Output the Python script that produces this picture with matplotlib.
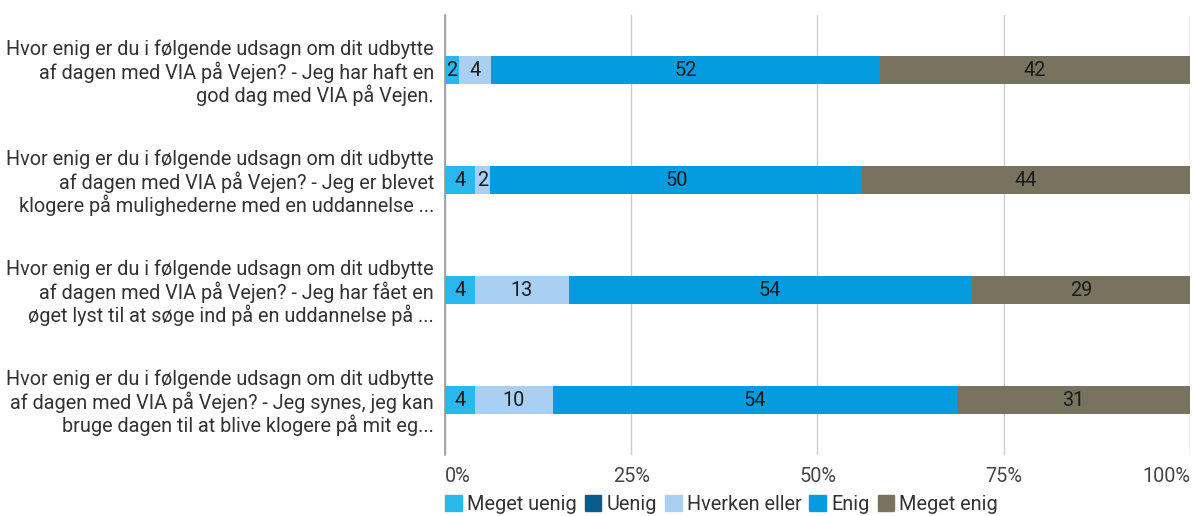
import matplotlib
matplotlib.use("Agg")
import matplotlib.pyplot as plt
from matplotlib.patches import Patch

plt.rcParams['font.family'] = ['Roboto', 'DejaVu Sans']

categories = [
    "Hvor enig er du i følgende udsagn om dit udbytte\naf dagen med VIA på Vejen? - Jeg har haft en\ngod dag med VIA på Vejen.",
    "Hvor enig er du i følgende udsagn om dit udbytte\naf dagen med VIA på Vejen? - Jeg er blevet\nklogere på mulighederne med en uddannelse ...",
    "Hvor enig er du i følgende udsagn om dit udbytte\naf dagen med VIA på Vejen? - Jeg har fået en\nøget lyst til at søge ind på en uddannelse på ...",
    "Hvor enig er du i følgende udsagn om dit udbytte\naf dagen med VIA på Vejen? - Jeg synes, jeg kan\nbruge dagen til at blive klogere på mit eg...",
]
series_names = ["Meget uenig", "Uenig", "Hverken eller", "Enig", "Meget enig"]
meget_uenig = [1.9, 4.0, 4.0, 4.0]
uenig = [0.0, 0.0, 0.0, 0.0]
hverken = [4.3, 2.1, 12.6, 10.5]
enig = [52.2, 49.9, 54.1, 54.2]
meget_enig = [41.6, 44.0, 29.3, 31.3]
tick_labels = ["0%", "25%", "50%", "75%", "100%"]
tick_values = [0, 25, 50, 75, 100]

colors = ["#29B8EE", "#0B5C8E", "#A9D0F2", "#049CDE", "#77735F"]
series = [meget_uenig, uenig, hverken, enig, meget_enig]

FS = 14.3

fig = plt.figure(figsize=(11.96, 5.16), dpi=100)
ax = fig.add_axes([445/1196, (516-455)/516, (1190-445)/1196, (455-15)/516])

ypos = list(range(len(categories)))
left = [0.0] * len(categories)
for name, vals, col in zip(series_names, series, colors):
    ax.barh(ypos, vals, left=left, height=0.255, color=col, label=name, zorder=3)
    for i, v in enumerate(vals):
        if v > 0:
            ax.text(left[i] + v / 2, ypos[i], f"{round(v):d}", ha="center", va="center",
                    fontsize=FS, color="#1a1a1a", zorder=4)
    left = [l + v for l, v in zip(left, vals)]

ax.set_xlim(0, 100)
ax.set_ylim(len(categories) - 0.5, -0.5)
ax.set_yticks(ypos)
ax.set_yticklabels(categories, fontsize=FS, color="#333333", linespacing=1.1)
ax.set_xticks(tick_values)
ax.set_xticklabels(tick_labels, fontsize=FS, color="#444444")
xt = ax.get_xticklabels()
xt[0].set_ha("left")
xt[-1].set_ha("right")
ax.tick_params(axis="y", length=0, pad=8)
ax.tick_params(axis="x", length=0, pad=9)
ax.grid(axis="x", color="#cccccc", linewidth=1, zorder=0)
for s in ["top", "right", "bottom"]:
    ax.spines[s].set_visible(False)
ax.spines["left"].set_color("#999999")
ax.spines["left"].set_linewidth(1.2)

handles = [Patch(facecolor=c, edgecolor=c, label=n) for n, c in zip(series_names, colors)]
fig.legend(handles=handles, loc="lower left", bbox_to_anchor=(445/1196, 2/516), ncol=5,
           frameon=False, fontsize=FS, handlelength=0.85, handleheight=0.85,
           handletextpad=0.25, columnspacing=0.4, borderpad=0, borderaxespad=0,
           labelcolor="#333333")

fig.savefig("out.png", dpi=100)
